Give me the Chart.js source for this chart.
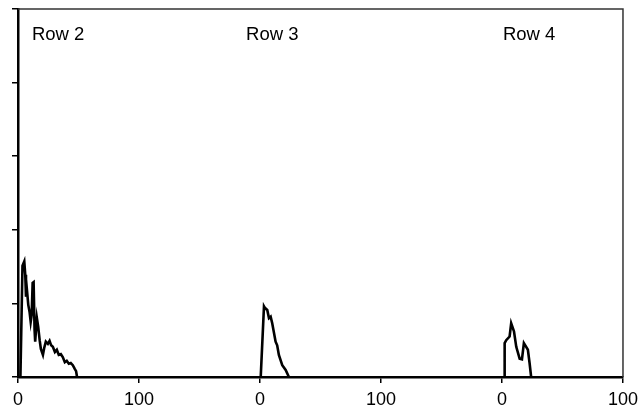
<!DOCTYPE html>
<html>
<head>
<meta charset="utf-8">
<script src="https://cdn.jsdelivr.net/npm/chart.js@4"></script>
<style>
  html, body { margin: 0; padding: 0; background: #fff; }
  #wrap { width: 644px; height: 411px; }
</style>
</head>
<body>
<div id="wrap"><canvas id="profileChart" width="644" height="411"></canvas></div>
<script>
// Each row is plotted in its own 200-unit window along one shared x axis
const rowNames = ['Row 2', 'Row 3', 'Row 4'];
const rowOffsets = [0, 200, 400];

const row2X = [2.0, 2.1, 3.7, 5.2, 6.0, 6.6, 7.4, 8.5, 9.6, 10.5, 11.3, 12.1, 12.9, 13.7, 14.2, 15.6, 16.7, 17.9, 18.9, 20.6, 21.6, 23.0, 24.7, 26.1, 27.4, 28.8, 30.5, 32.1, 33.7, 35.4, 37.0, 38.7, 40.3, 42.0, 43.6, 45.3, 46.9, 48.0, 48.8];
const row2Y = [0, 0, 15.1, 15.7, 13.9, 10.9, 11.8, 9.8, 8.8, 7.5, 8.4, 12.8, 12.9, 6.4, 4.8, 8.0, 6.8, 5.0, 3.8, 3.0, 3.9, 4.8, 4.5, 4.9, 4.3, 4.1, 3.4, 3.7, 3.0, 3.1, 2.7, 2.0, 2.2, 1.8, 1.9, 1.6, 1.1, 0.8, 0];

const row3X = [0.6, 3.3, 4.0, 6.0, 7.4, 8.8, 10.1, 12.9, 14.2, 15.6, 18.4, 21.2, 23.9];
const row3Y = [0, 9.6, 9.4, 9.1, 8.0, 8.2, 7.3, 4.8, 4.3, 3.0, 1.6, 0.95, 0];

const row4X = [2.2, 2.2, 3.5, 6.3, 7.6, 9.9, 11.8, 14.6, 16.5, 18.1, 20.0, 21.4, 22.8, 24.1];
const row4Y = [0, 4.6, 5.0, 5.5, 7.3, 6.2, 4.1, 2.5, 2.4, 4.6, 4.1, 3.7, 1.9, 0];

const xTicks = [0, 100, 200, 300, 400, 500];
const xTickLabels = ['0', '100', '0', '100', '0', '100'];
const yMax = 50;
const yStep = 10;

// where each row name sits, in axis units
const rowLabelX = [11.5, 188.5, 400.8];
const rowLabelY = 46.5;

function toPoints(xs, ys, offset) {
    return xs.map((x, i) => ({ x: x + offset, y: ys[i] }));
}

const rowData = [[row2X, row2Y], [row3X, row3Y], [row4X, row4Y]];
const datasets = rowData.map(([xs, ys], i) => ({
    label: rowNames[i],
    data: toPoints(xs, ys, rowOffsets[i]),
    borderColor: '#000',
    borderWidth: 2.6,
    pointRadius: 0,
    tension: 0,
    fill: false
}));

// top and right edges of the plot box
const frame = {
    id: 'frame',
    afterDraw(chart) {
        const { ctx, chartArea: a } = chart;
        ctx.save();
        ctx.strokeStyle = '#333';
        ctx.lineWidth = 1.5;
        ctx.beginPath();
        ctx.moveTo(a.left, a.top);
        ctx.lineTo(a.right, a.top);
        ctx.lineTo(a.right, a.bottom);
        ctx.stroke();
        ctx.restore();
    }
};

const rowTitles = {
    id: 'rowTitles',
    afterDraw(chart) {
        const { ctx, scales } = chart;
        ctx.save();
        ctx.fillStyle = '#000';
        ctx.font = '18.5px "Liberation Sans", Arial, sans-serif';
        ctx.textBaseline = 'middle';
        rowNames.forEach((name, i) => {
            ctx.fillText(name, scales.x.getPixelForValue(rowLabelX[i]), scales.y.getPixelForValue(rowLabelY));
        });
        ctx.restore();
    }
};

new Chart(document.getElementById('profileChart'), {
    type: 'line',
    data: { datasets },
    plugins: [frame, rowTitles],
    options: {
        responsive: false,
        animation: false,
        layout: { padding: { left: 0, right: 18, top: 9, bottom: 0 } },
        plugins: {
            legend: { display: false },
            tooltip: { enabled: false }
        },
        scales: {
            x: {
                type: 'linear',
                min: 0,
                max: 500,
                afterBuildTicks: (scale) => { scale.ticks = xTicks.map(v => ({ value: v })); },
                afterFit: (scale) => { scale.height = 34; },
                ticks: {
                    color: '#000',
                    font: { family: '"Liberation Sans", Arial, sans-serif', size: 18 },
                    padding: 6,
                    maxRotation: 0,
                    callback: (v) => xTickLabels[xTicks.indexOf(v)]
                },
                grid: { drawOnChartArea: false, drawTicks: true, tickLength: 6, color: '#000', lineWidth: 1.5 },
                border: { color: '#000', width: 2.5 }
            },
            y: {
                min: 0,
                max: yMax,
                afterFit: (scale) => { scale.width = 18; },
                ticks: { stepSize: yStep, display: false },
                grid: { drawOnChartArea: false, drawTicks: true, tickLength: 6, color: '#000', lineWidth: 1.5 },
                border: { color: '#000', width: 2.5 }
            }
        }
    }
});
</script>
</body>
</html>
